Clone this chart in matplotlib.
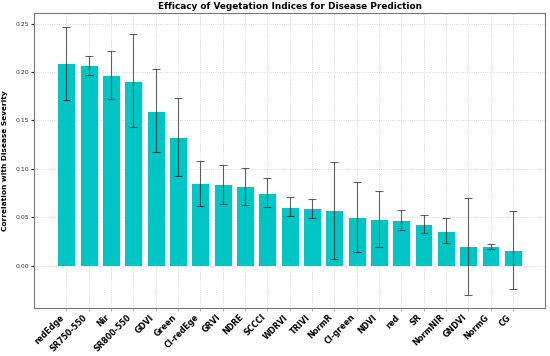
import matplotlib
matplotlib.use("Agg")
import matplotlib.pyplot as plt
import numpy as np

# Vegetation indices sorted by correlation
indices = ['redEdge', 'SR750-550', 'Nir', 'SR800-550', 'GDVI', 'Green', 'CI-redEge',
           'GRVI', 'NDRE', 'SCCCI', 'WDRVI', 'TRIVI', 'NormR', 'CI-green', 'NDVI',
           'red', 'SR', 'NormNIR', 'GNDVI', 'NormG', 'CG']
correlation = [0.209, 0.207, 0.197, 0.191, 0.160, 0.133, 0.085,
               0.084, 0.082, 0.075, 0.061, 0.059, 0.057, 0.050, 0.048,
               0.047, 0.043, 0.036, 0.020, 0.020, 0.016]
std_err = [0.038, 0.010, 0.025, 0.048, 0.043, 0.040, 0.023,
           0.020, 0.019, 0.015, 0.010, 0.010, 0.050, 0.036, 0.029,
           0.010, 0.009, 0.013, 0.050, 0.0026, 0.040]

fig = plt.figure(figsize=(5.5, 3.56), dpi=100)
ax = fig.add_axes([0.062, 0.135, 0.929, 0.828])

x = np.arange(len(indices))
ax.bar(x, correlation, width=0.8, color='#00C5C5', edgecolor='white', linewidth=0.6,
       yerr=std_err, capsize=3,
       error_kw={'ecolor': 'black', 'elinewidth': 0.8, 'capthick': 0.8, 'alpha': 0.6})

ax.set_title('Efficacy of Vegetation Indices for Disease Prediction',
             fontsize=6.4, fontweight='bold', pad=3)
ax.set_ylabel('Correlation with Disease Severity', fontsize=5.3, fontweight='bold')
ax.yaxis.set_label_coords(-0.051, 0.5)
ax.set_xticks(x)
ax.set_xticklabels(indices, rotation=45, ha='right', fontsize=5.8, fontweight='bold')
ax.set_yticks([0.0, 0.05, 0.10, 0.15, 0.20, 0.25])
ax.tick_params(axis='y', labelsize=4.4, colors='#333333', length=2, pad=1.5)
ax.tick_params(axis='x', length=2, color='#bbbbbb', pad=1.5)
ax.grid(True, linestyle=':', color='#cccccc', linewidth=0.6)
ax.set_axisbelow(True)
for s in ax.spines.values():
    s.set_color('#777777')
    s.set_linewidth(0.8)

fig.savefig('out.png', dpi=100)
